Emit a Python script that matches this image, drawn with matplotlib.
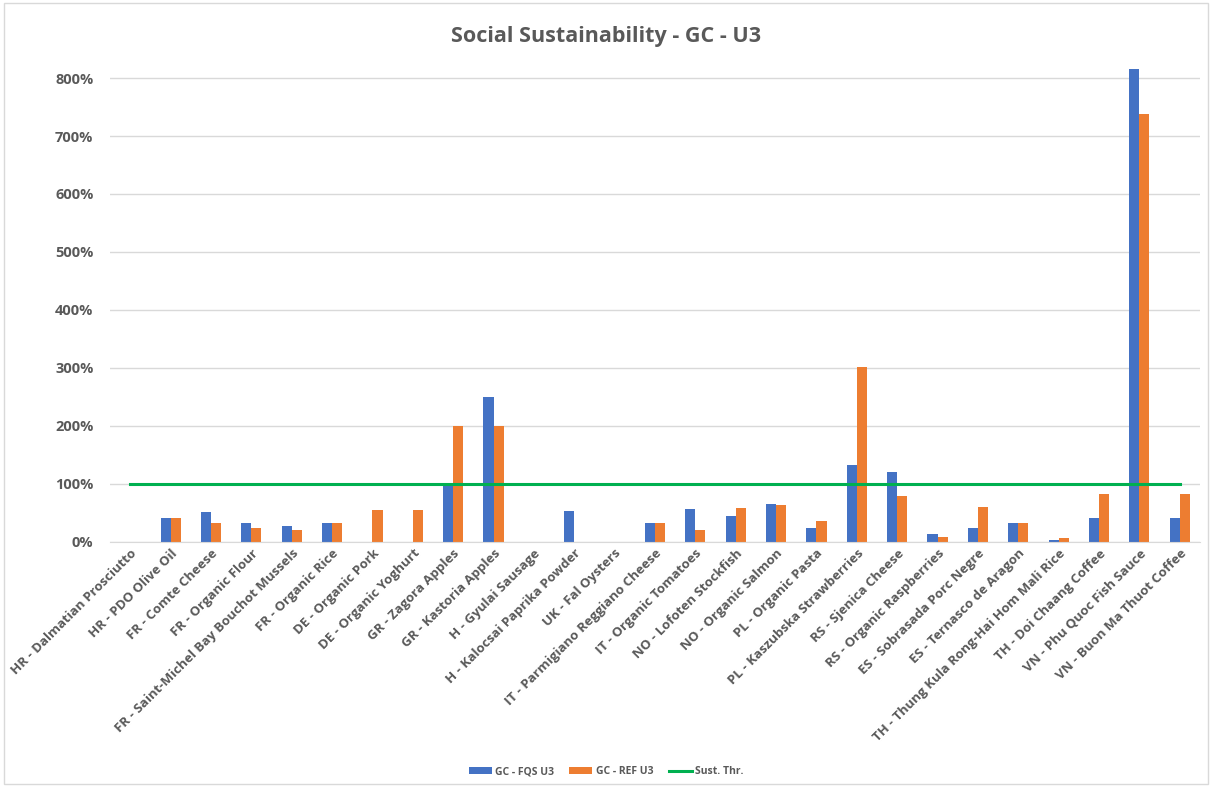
import matplotlib
matplotlib.use("Agg")
import matplotlib.pyplot as plt
import numpy as np
from matplotlib.patches import Rectangle
from matplotlib.ticker import FuncFormatter, MultipleLocator

categories = [
    "HR - Dalmatian Prosciutto", "HR - PDO Olive Oil", "FR - Comte Cheese",
    "FR - Organic Flour", "FR - Saint-Michel Bay Bouchot Mussels", "FR - Organic Rice",
    "DE - Organic Pork", "DE - Organic Yoghurt", "GR - Zagora Apples",
    "GR - Kastoria Apples", "H - Gyulai Sausage", "H - Kalocsai Paprika Powder",
    "UK - Fal Oysters", "IT - Parmigiano Reggiano Cheese", "IT - Organic Tomatoes",
    "NO - Lofoten Stockfish", "NO - Organic Salmon", "PL - Organic Pasta",
    "PL - Kaszubska Strawberries", "RS - Sjenica Cheese", "RS - Organic Raspberries",
    "ES - Sobrasada Porc Negre", "ES - Ternasco de Aragon",
    "TH - Thung Kula Rong-Hai Hom Mali Rice", "TH - Doi Chaang Coffee",
    "VN - Phu Quoc Fish Sauce", "VN - Buon Ma Thuot Coffee",
]
# values in percent
fqs_u3 = [0, 42, 51, 32, 27, 32, 0, 0, 100, 250, 0, 53, 0, 33, 56, 45, 65, 24,
          133, 120, 13, 24, 32, 4, 42, 816, 42]
ref_u3 = [0, 41, 33, 24, 21, 32, 55, 55, 200, 200, 0, 0, 0, 33, 21, 58, 64, 36,
          301, 79, 9, 61, 32, 7, 82, 738, 82]
threshold = [100] * len(categories)

BLUE = "#4472C4"
ORANGE = "#ED7D31"
GREEN = "#00B050"
GRAY = "#595959"

fig = plt.figure(figsize=(12.12, 7.9), dpi=100)
ax = fig.add_axes([0.0908, 0.314, 0.8992, 0.61])

x = np.arange(len(categories))
w = 0.25
b1 = ax.bar(x - w / 2, fqs_u3, w, color=BLUE, label="GC - FQS U3", zorder=2)
b2 = ax.bar(x + w / 2, ref_u3, w, color=ORANGE, label="GC - REF U3", zorder=2)
(ln,) = ax.plot(x, threshold, color=GREEN, lw=2.2, label="Sust. Thr.", zorder=3)

ax.set_xlim(-0.5, len(categories) - 0.5)
ax.set_ylim(0, 831)
ax.yaxis.set_major_locator(MultipleLocator(100))
ax.yaxis.set_major_formatter(FuncFormatter(lambda v, _: f"{v:.0f}%"))
ax.grid(axis="y", color="#D9D9D9", lw=1, zorder=0)
ax.set_axisbelow(True)
for s in ["top", "right", "left"]:
    ax.spines[s].set_visible(False)
ax.spines["bottom"].set_color("#D9D9D9")
ax.tick_params(axis="both", length=0, colors=GRAY)
ax.tick_params(axis="y", pad=12)

font = "Open Sans"
ax.set_xticks(x)
ax.set_xticklabels(categories, rotation=45, ha="right", rotation_mode="anchor",
                   fontsize=9.5, fontweight="bold", color=GRAY, family=font)
for lbl in ax.get_yticklabels():
    lbl.set_fontsize(10.5)
    lbl.set_fontweight("bold")
    lbl.set_family(font)
    lbl.set_color(GRAY)

fig.suptitle("Social Sustainability - GC - U3", y=0.967, fontsize=15.5,
             fontweight="bold", color=GRAY, family=font)

fig.legend([b1, b2, ln], ["GC - FQS U3", "GC - REF U3", "Sust. Thr."],
           loc="center", bbox_to_anchor=(0.5, 0.023), ncol=3, frameon=False,
           prop={"family": font, "size": 7.5, "weight": "bold"},
           handlelength=2.2, handleheight=0.7, handletextpad=0.3, columnspacing=1.5,
           labelcolor=GRAY)

fig.patches.append(Rectangle((0.003, 0.008), 0.994, 0.988, transform=fig.transFigure,
                             fill=False, edgecolor="#D9D9D9", lw=1))

fig.savefig("out.png", dpi=100)
